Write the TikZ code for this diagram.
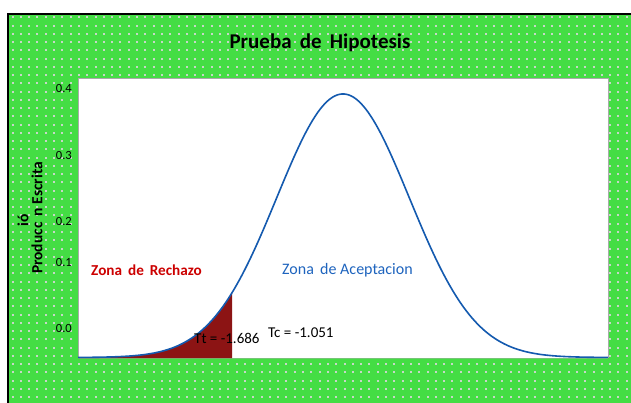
\documentclass[tikz,border=0pt]{standalone}
\usepackage{fontspec}
\setmainfont{Carlito}
\definecolor{bggreen}{RGB}{68,221,68}
\definecolor{dotgray}{RGB}{200,214,200}
\definecolor{curveblue}{RGB}{20,90,175}
\definecolor{rejshade}{RGB}{140,20,20}
\definecolor{rechazo}{RGB}{204,0,0}
\definecolor{acept}{RGB}{30,100,190}
\definecolor{plotedge}{RGB}{170,170,170}
\tikzset{
  ticklbl/.style={anchor=east, inner sep=0pt, font=\fontsize{12.5}{14}\selectfont},
  ylbl/.style={rotate=90, inner sep=0pt, font=\bfseries\fontsize{15.5}{18}\selectfont},
  note/.style={inner sep=0pt, font=\fontsize{16}{18}\selectfont},
  tval/.style={inner sep=0pt, anchor=west, font=\fontsize{15}{17}\selectfont},
}
\begin{document}
\begin{tikzpicture}[x=1pt,y=-1pt]
\useasboundingbox (0,0) rectangle (631,403);
\begin{scope}
\clip (0,0) rectangle (631,403);
% outer frame
\fill[bggreen] (8,14) rectangle (660,430);
\foreach \i in {0,...,75} {
  \foreach \j in {0,...,47} {
    \fill[dotgray] ({11.5+8.3*\i},{16.5+8.25*\j}) rectangle ++(2,2);
  }
}
\draw[black, line width=2.2pt] (8,430) -- (8,14) -- (660,14);
\end{scope}
% plot area
\fill[white] (78,78) rectangle (608,358);
\draw[plotedge, line width=0.8pt] (78,358) -- (78,78) -- (608,78) -- (608,358);
\draw[plotedge!70!green, line width=0.8pt] (78,358) -- (608,358);
% rejection region
\fill[rejshade] (78,358) -- plot[domain=78:232, samples=80] (\x, {357.5 - 263.5*exp(-((\x-343)/66.25)^2/2)}) -- (232,358) -- cycle;
% curve
\draw[curveblue, line width=1.6pt] plot[domain=78:608, samples=220] (\x, {357.5 - 263.5*exp(-((\x-343)/66.25)^2/2)});
% title
\node[inner sep=0pt, font=\bfseries\fontsize{21}{24}\selectfont] (title) at (320,43) {Prueba\, de\, Hipotesis};
% tick labels
\node[ticklbl] (t4) at (72,88) {0.4};
\node[ticklbl] (t3) at (72,155) {0.3};
\node[ticklbl] (t2) at (72,221) {0.2};
\node[ticklbl] (t1) at (72,262) {0.1};
\node[ticklbl] (t0) at (72,328) {0.0};
% y label
\node[ylbl] (yl1) at (23,220) {ió};
\node[ylbl] (yl2) at (37,218) {Producc\, n Escrita};
% annotations
\node[note, anchor=west, text=rechazo, font=\bfseries\fontsize{15.2}{18}\selectfont] (zr) at (91,270) {Zona\, de\, Rechazo};
\node[note, anchor=west, text=acept] (za) at (282,270) {Zona\, de Aceptacion};
\node[tval] (tt) at (194,338) {Tt = -1.686};
\node[tval] (tc) at (268,333) {Tc = -1.051};
\end{tikzpicture}
\end{document}
